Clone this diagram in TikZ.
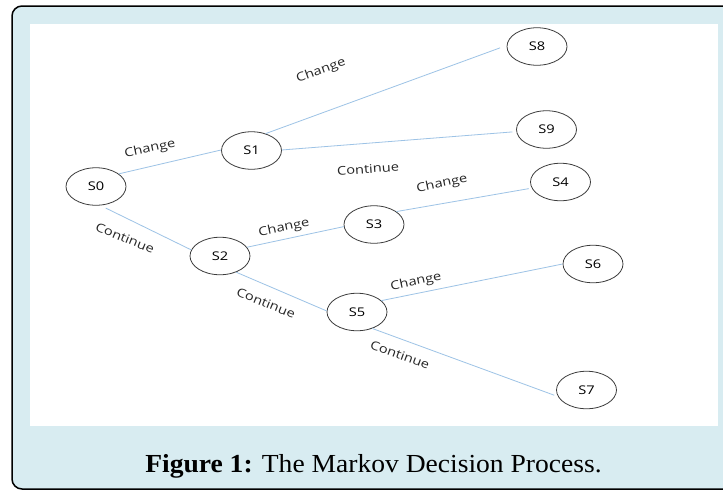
\documentclass[tikz,border=0pt]{standalone}
\usepackage{fontspec}
\setmainfont{Liberation Serif}
\newfontfamily\labelfont{Open Sans}
\usetikzlibrary{shapes.geometric}
\definecolor{panelblue}{RGB}{216,236,241}
\definecolor{edgeblue}{RGB}{157,195,230}
\definecolor{ringgray}{RGB}{60,60,60}
\newcommand{\wide}[1]{\scalebox{1.22}[1]{#1}}
\begin{document}
\begin{tikzpicture}[x=1pt,y=-1pt,
  state/.style={ellipse, draw=ringgray, line width=0.8pt, minimum width=60pt, minimum height=37.5pt, inner sep=0pt, font=\labelfont\fontsize{12}{14}\selectfont},
  link/.style={draw=edgeblue, line width=0.8pt},
  lbl/.style={font=\labelfont\fontsize{12}{14}\selectfont, inner sep=0pt, text=black!85}]
\useasboundingbox (0,0) rectangle (723,491);
\draw[fill=panelblue, line width=1.5pt, rounded corners=10pt] (12,6) rectangle (760,489);
\fill[white] (30,24) rectangle (718,426);

\node[state] (s0) at (96,186.5) {\wide{S0}};
\node[state] (s1) at (251.5,150.5) {\wide{S1}};
\node[state] (s8) at (537,46.5) {\wide{S8}};
\node[state] (s9) at (546.5,129.5) {\wide{S9}};
\node[state] (s4) at (560.5,182) {\wide{S4}};
\node[state] (s3) at (374,224.5) {\wide{S3}};
\node[state] (s2) at (220,256) {\wide{S2}};
\node[state] (s5) at (357,312) {\wide{S5}};
\node[state] (s6) at (593,264) {\wide{S6}};
\node[state] (s7) at (586.5,390) {\wide{S7}};

\draw[link] (s0.29) -- (s1.179);
\draw[link, shorten >=7pt] (s1.50) -- (s8.178);
\draw[link, shorten >=4pt] (s1.1) -- (s9.184);
\draw[link, shorten <=6pt] (s0.-77) -- (s2.168);
\draw[link] (s2.18) -- (s3.184);
\draw[link, shorten >=3pt] (s3.30) -- (s4.192);
\draw[link] (s2.-45) -- (s5.178);
\draw[link] (s5.25) -- (s6.180);
\draw[link, shorten >=4pt] (s5.-47) -- (s7.193);

\node[lbl, rotate=12] (l01) at (150,149) {\wide{Change}};
\node[lbl, rotate=20] (l18) at (321,71) {\wide{Change}};
\node[lbl, rotate=4] (l19) at (368,169) {\wide{Continue}};
\node[lbl, rotate=12] (l34) at (442,184) {\wide{Change}};
\node[lbl, rotate=12] (l23) at (284,228) {\wide{Change}};
\node[lbl, rotate=-22] (l02) at (125,238) {\wide{Continue}};
\node[lbl, rotate=-22] (l25) at (266,303) {\wide{Continue}};
\node[lbl, rotate=12] (l56) at (416,282) {\wide{Change}};
\node[lbl, rotate=-20] (l57) at (400,355) {\wide{Continue}};

\node[anchor=base, inner sep=0pt, font=\fontsize{26}{30}\selectfont] (cap) at (373.5,472) {\scalebox{1.06}[1]{\textbf{Figure 1:} The Markov Decision Process.}};
\end{tikzpicture}
\end{document}
